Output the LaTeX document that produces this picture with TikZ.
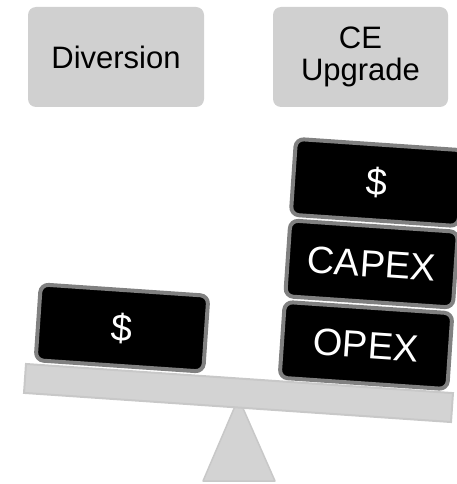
\documentclass[tikz,border=0pt]{standalone}
\usepackage{fontspec}
\setmainfont{Liberation Sans}
\definecolor{boxgray}{HTML}{D0D0D0}
\definecolor{beamgray}{HTML}{D3D3D3}
\definecolor{beamedge}{HTML}{C8C8C8}
\definecolor{blockedge}{HTML}{808080}
\begin{document}
\begin{tikzpicture}[x=1pt,y=-1pt,
  labelbox/.style={fill=boxgray, rounded corners=8pt, minimum width=176pt, minimum height=100pt, inner sep=0pt, align=center, font=\fontsize{31}{32}\selectfont},
  weight/.style={fill=black, draw=blockedge, line width=4pt, rounded corners=8pt, minimum width=168pt, minimum height=76pt, inner sep=0pt, text=white, rotate=-3.9, font=\fontsize{38}{40}\selectfont},
  beamstyle/.style={fill=beamgray, draw=beamedge, line width=2pt, minimum width=428pt, minimum height=29pt, inner sep=0pt, rotate=-3.9}]
\useasboundingbox (0,0) rectangle (457,484);
\clip (0,0) rectangle (457,484);
% labels
\node[labelbox] (div) at (116,57) {Diversion};
\node[labelbox, minimum width=175pt] (ceu) at (360.5,57) {CE\\Upgrade};
% fulcrum
\coordinate (apex) at (238.5,398);
\coordinate (bl) at (203,481);
\coordinate (br) at (275,481);
\filldraw[fill=beamgray, draw=beamedge, line width=1.5pt, line join=round] (apex) -- (bl) -- (br) -- cycle;
% beam
\node[beamstyle] (beam) at (238.5,393) {};
% weights
\node[weight] (lmoney) at (122,328) {\$};
\node[weight] (opex) at (366,345.5) {OPEX};
\node[weight] (capex) at (371.6,264) {CAPEX};
\node[weight] (rmoney) at (377.2,182.5) {\$};
\end{tikzpicture}
\end{document}
